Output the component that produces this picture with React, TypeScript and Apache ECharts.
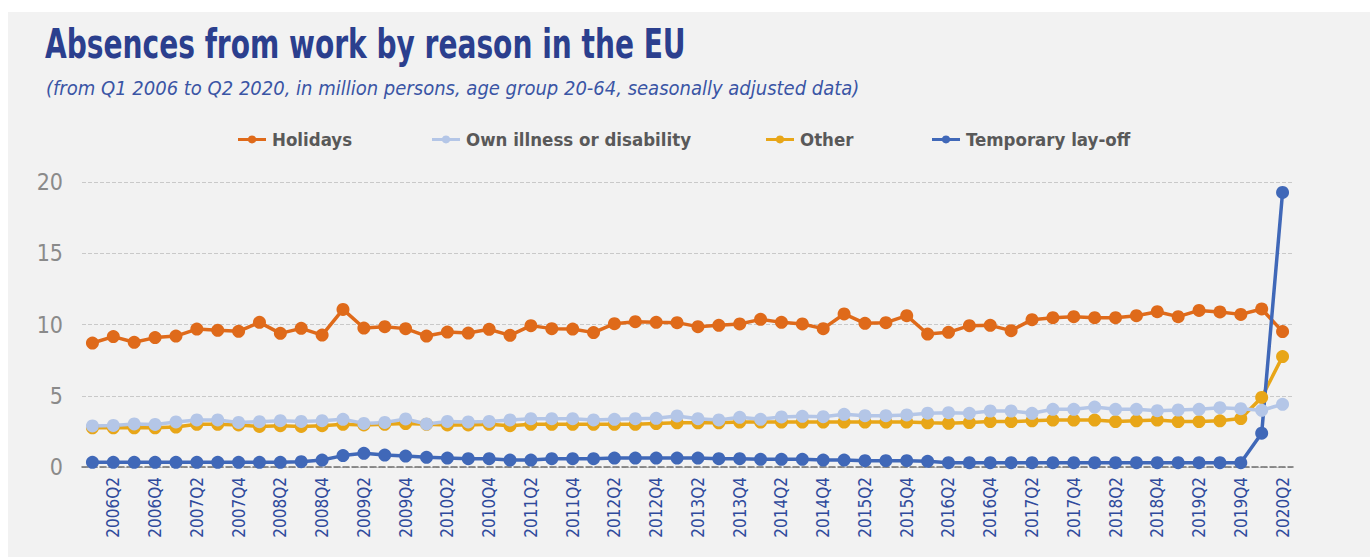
import React, { useEffect, useRef } from "react";
import * as echarts from "echarts";

const quarters: string[] = [];
for (let y = 2006; y <= 2020; y++) {
  for (let q = 1; q <= 4; q++) {
    if (y === 2020 && q > 2) break;
    quarters.push(`${y}Q${q}`);
  }
}

const holidays = [8.70, 9.15, 8.75, 9.08, 9.19, 9.68, 9.59, 9.52, 10.15, 9.38, 9.73, 9.26, 11.06, 9.75, 9.85, 9.71, 9.19, 9.47, 9.40, 9.66,
  9.24, 9.92, 9.71, 9.68, 9.43, 10.06, 10.20, 10.15, 10.13, 9.85, 9.94, 10.04, 10.36, 10.15, 10.04, 9.71, 10.74, 10.08, 10.13, 10.62, 9.33,
  9.45, 9.92, 9.94, 9.57, 10.34, 10.48, 10.55, 10.48, 10.48, 10.62, 10.90, 10.55, 10.99, 10.88, 10.71, 11.09, 9.50];

const illness = [2.88, 2.92, 3.02, 2.99, 3.16, 3.30, 3.30, 3.13, 3.18, 3.25, 3.20, 3.25, 3.35, 3.06, 3.13, 3.37, 3.02, 3.20, 3.16, 3.20,
  3.30, 3.39, 3.39, 3.39, 3.30, 3.35, 3.39, 3.42, 3.58, 3.39, 3.30, 3.49, 3.35, 3.51, 3.56, 3.53, 3.70, 3.60, 3.60, 3.65, 3.78,
  3.81, 3.77, 3.93, 3.93, 3.77, 4.05, 4.05, 4.21, 4.05, 4.05, 3.95, 4.00, 4.05, 4.16, 4.09, 3.98, 4.40];

const other = [2.75, 2.75, 2.75, 2.75, 2.80, 3.00, 3.00, 2.95, 2.85, 2.90, 2.85, 2.90, 3.00, 2.95, 3.00, 3.05, 3.00, 2.95, 2.95, 3.00,
  2.90, 3.00, 3.00, 3.00, 3.00, 3.00, 3.00, 3.05, 3.10, 3.10, 3.10, 3.15, 3.15, 3.15, 3.15, 3.15, 3.15, 3.15, 3.15, 3.15, 3.10,
  3.07, 3.12, 3.19, 3.19, 3.24, 3.29, 3.29, 3.29, 3.19, 3.24, 3.29, 3.19, 3.19, 3.24, 3.40, 4.88, 7.75];

const layoff = [0.33, 0.33, 0.33, 0.33, 0.33, 0.33, 0.33, 0.33, 0.33, 0.33, 0.37, 0.49, 0.80, 0.96, 0.84, 0.77, 0.68, 0.63, 0.58, 0.58,
  0.49, 0.49, 0.58, 0.58, 0.58, 0.63, 0.63, 0.63, 0.63, 0.63, 0.58, 0.58, 0.54, 0.54, 0.54, 0.49, 0.49, 0.44, 0.44, 0.44, 0.40,
  0.30, 0.30, 0.30, 0.30, 0.30, 0.30, 0.30, 0.30, 0.30, 0.30, 0.30, 0.30, 0.30, 0.30, 0.30, 2.37, 19.27];

const yTicks = [0, 5, 10, 15, 20];

const seriesNames = ["Holidays", "Own illness or disability", "Other", "Temporary lay-off"];
const colors: Record<string, string> = {
  "Holidays": "#df6a1a",
  "Own illness or disability": "#b4c6e7",
  "Other": "#e8a618",
  "Temporary lay-off": "#4068b8",
};

const TITLE = "Absences from work by reason in the EU";
const SUBTITLE = "(from Q1 2006 to Q2 2020, in million persons, age group 20-64, seasonally adjusted data)";

const FONT = "'DejaVu Sans Condensed', 'Noto Sans', sans-serif";

export default function App() {
  const ref = useRef<HTMLDivElement>(null);
  useEffect(() => {
    document.body.style.margin = "0";
    document.body.style.background = "#ffffff";
    const chart = echarts.init(ref.current!, null, { renderer: "svg" });
    const legendLefts = [233, 427, 761, 927];
    const mk = (name: string, data: number[]) => ({
      name,
      type: "line",
      data,
      symbol: "circle",
      symbolSize: 13,
      lineStyle: { width: 3.5, color: colors[name] },
      itemStyle: { color: colors[name] },
      emphasis: { disabled: true },
    });
    chart.setOption({
      animation: false,
      textStyle: { fontFamily: FONT },
      graphic: [
        {
          type: "rect",
          shape: { x: 8, y: 12, width: 1362, height: 545 },
          style: { fill: "#f2f2f2" },
          z: -10,
          silent: true,
        },
        {
          type: "text",
          x: 45,
          y: 24,
          scaleX: 0.78,
          silent: true,
          style: {
            text: TITLE,
            font: `bold 40px ${FONT}`,
            fill: "#2b3f8e",
            verticalAlign: "top",
            align: "left",
          },
        },
        {
          type: "text",
          x: 46,
          y: 78,
          silent: true,
          style: {
            text: SUBTITLE,
            font: `italic 20px ${FONT}`,
            fill: "#3a55a5",
            verticalAlign: "top",
            align: "left",
          },
        },
      ],
      legend: seriesNames.map((n, i) => ({
        data: [n],
        left: legendLefts[i],
        top: 125,
        itemWidth: 28,
        itemHeight: 14,
        itemGap: 0,
        icon: "path://M0,5.5 L10,5.5 A4.5,4.5 0 0 1 18,5.5 L28,5.5 L28,8.5 L18,8.5 A4.5,4.5 0 0 1 10,8.5 L0,8.5 Z",
        textStyle: { fontFamily: FONT, fontSize: 18.5, fontWeight: "bold", color: "#595959", padding: [0, 0, 0, 1] },
        selectedMode: false,
      })),
      grid: { left: 82, right: 77, top: 182, bottom: 90, containLabel: false },
      xAxis: {
        type: "category",
        data: quarters,
        boundaryGap: true,
        axisTick: { show: false },
        axisLine: { show: true, lineStyle: { color: "#6e6e6e", type: "dashed", width: 1.5 } },
        axisLabel: {
          rotate: 90,
          interval: (i: number) => i % 2 === 1,
          color: "#2f4a9c",
          fontSize: 17,
          fontFamily: FONT,
          margin: 10,
        },
      },
      yAxis: {
        type: "value",
        min: 0,
        max: 20,
        interval: 5,
        axisLine: { show: false },
        axisTick: { show: false },
        axisLabel: {
          color: "#8a8a8a",
          fontSize: 23,
          fontFamily: FONT,
          margin: 19,
          formatter: (v: number) => (yTicks.includes(v) ? String(v) : ""),
        },
        splitLine: { lineStyle: { color: "#c9c9c9", type: "dashed", width: 1 } },
      },
      series: [
        mk("Holidays", holidays),
        mk("Other", other),
        mk("Own illness or disability", illness),
        mk("Temporary lay-off", layoff),
      ],
    });
    return () => chart.dispose();
  }, []);
  return <div ref={ref} style={{ width: 1370, height: 557 }} />;
}
